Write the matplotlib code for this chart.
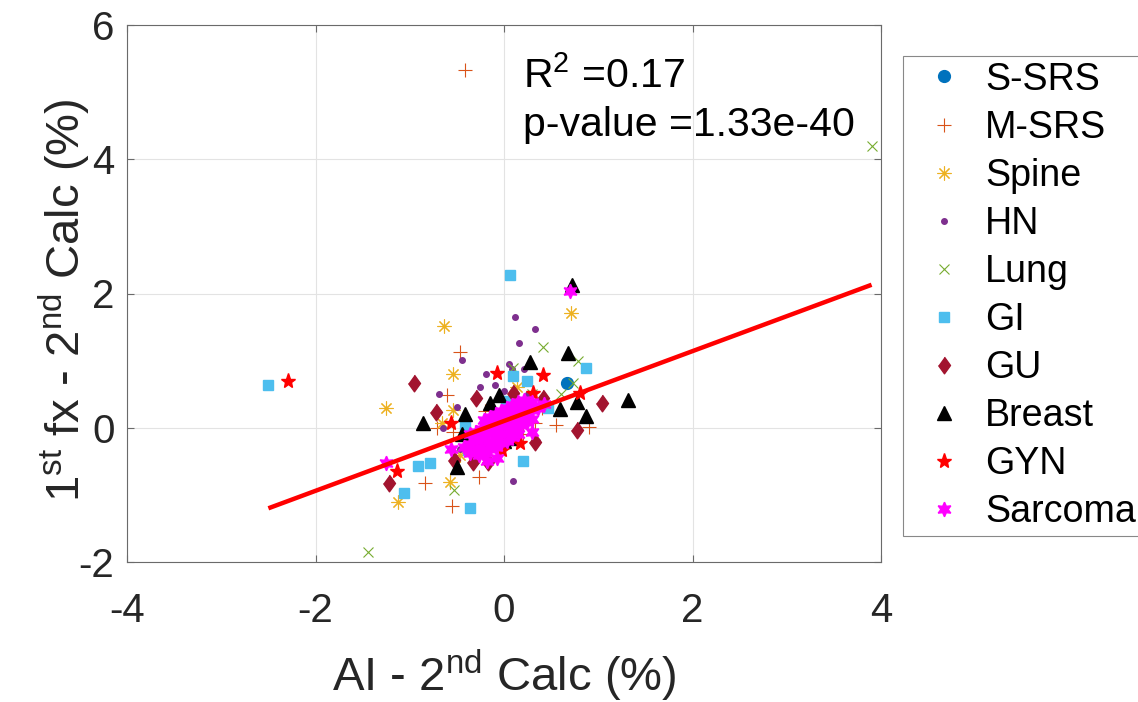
import matplotlib
matplotlib.use("Agg")
import matplotlib.pyplot as plt

plt.rcParams['font.family'] = ['Liberation Sans', 'DejaVu Sans']
plt.rcParams['mathtext.fontset'] = 'custom'
plt.rcParams['mathtext.rm'] = 'Liberation Sans'
plt.rcParams['mathtext.it'] = 'Liberation Sans:italic'
plt.rcParams['axes.unicode_minus'] = False

# ---------------- data ----------------
categories = ["S-SRS", "M-SRS", "Spine", "HN", "Lung", "GI", "GU", "Breast", "GYN", "Sarcoma"]

ssrs_x = [0.67, 0.05, -0.10, 0.10]
ssrs_y = [0.66, 0.20, 0.10, 0.30]

msrs_x = [-0.41, -0.47, -0.60, -0.71, -0.54, -0.27, -0.84, -0.55, 0.55, 0.90, 0.33, 0.20, 0.40, -0.20]
msrs_y = [5.33, 1.13, 0.49, 0.00, -0.07, -0.73, -0.83, -1.16, 0.04, 0.01, 0.07, -0.10, 0.30, 0.25]

spine_x = [0.71, -0.64, -0.54, -1.25, -0.54, -0.66, -0.47, -0.57, -1.12, 0.14, 0.30]
spine_y = [1.71, 1.52, 0.80, 0.30, 0.27, 0.07, -0.40, -0.81, -1.10, 0.61, 0.35]

hn_x = [0.33, 0.12, 0.16, -0.45, 0.21, 0.08, -0.19, -0.10, -0.69, -0.50, -0.65, -0.47, 0.10,
        0.00, -0.25, 0.25, -0.30, 0.35, 0.05]
hn_y = [1.47, 1.65, 1.27, 1.01, 0.88, 0.88, 0.80, 0.63, 0.51, 0.31, 0.00, -0.31, -0.79,
        0.55, 0.60, 0.50, -0.50, -0.20, 0.95]

lung_x = [3.90, -1.44, 0.41, 0.79, 0.73, 0.10, -0.53, 0.30, -0.20, 0.60]
lung_y = [4.20, -1.85, 1.20, 1.00, 0.67, 0.89, -0.92, 0.50, -0.30, 0.50]

gi_x = [-2.50, 0.06, 0.87, 0.10, 0.24, -0.91, -0.78, 0.20, -1.06, -0.36, -0.41, -0.38, 0.47, 0.02]
gi_y = [0.64, 2.27, 0.89, 0.77, 0.69, -0.57, -0.52, -0.49, -0.97, -1.19, 0.01, -0.33, 0.30, 0.40]

gu_x = [-0.95, -0.72, -0.30, 0.41, 1.04, 0.77, 0.33, -0.53, -0.17, -0.33, -1.22, 0.10, -0.36]
gu_y = [0.67, 0.24, 0.45, 0.45, 0.37, -0.03, -0.21, -0.48, -0.51, -0.51, -0.82, 0.52, -0.21]

breast_x = [0.72, 0.68, 0.28, -0.05, 0.59, 0.77, 0.87, 1.32, -0.86, -0.41, -0.50,
            -0.15, -0.25, 0.08, -0.30, 0.00, 0.15, -0.45]
breast_y = [2.12, 1.12, 0.98, 0.49, 0.28, 0.39, 0.18, 0.42, 0.07, 0.21, -0.58,
            0.37, -0.18, -0.15, -0.25, -0.20, 0.35, -0.10]

gyn_x = [-2.29, 0.41, -0.07, -0.56, -1.14, 0.81, 0.31, -0.08, -0.02, 0.17, -0.34]
gyn_y = [0.70, 0.79, 0.82, 0.07, -0.64, 0.52, 0.52, -0.23, -0.33, -0.23, -0.23]

sarcoma_x = [0.70, -1.25, -0.56, -0.29, -0.19, -0.07, 0.30, -0.18,
             -0.42, -0.36, -0.30, -0.24, -0.18, -0.12, -0.06, 0.00, 0.06, 0.12, 0.18, 0.24, 0.30, 0.36, 0.42,
             -0.36, -0.30, -0.24, -0.18, -0.12, -0.06, 0.00, 0.06, 0.12, 0.18, 0.24, 0.30,
             -0.36, -0.30, -0.24, -0.18, -0.12, -0.06, 0.00, 0.06, 0.12, 0.18, 0.24, 0.30,
             -0.21, -0.15, -0.09, -0.03, 0.03, 0.09, 0.15, 0.21,
             -0.27, -0.21, -0.15, -0.09, -0.03, 0.03, 0.09, 0.15]
sarcoma_y = [2.03, -0.52, -0.31, -0.36, -0.36, -0.45, -0.07, -0.49,
             -0.28, -0.24, -0.19, -0.15, -0.10, -0.06, -0.01, 0.03, 0.08, 0.12, 0.17, 0.21, 0.26, 0.30, 0.35,
             -0.10, -0.06, -0.02, 0.03, 0.07, 0.12, 0.16, 0.21, 0.25, 0.30, 0.34, 0.39,
             -0.37, -0.32, -0.28, -0.23, -0.19, -0.14, -0.10, -0.05, -0.01, 0.04, 0.08, 0.13,
             0.11, 0.16, 0.20, 0.25, 0.29, 0.34, 0.38, 0.42,
             -0.41, -0.37, -0.32, -0.28, -0.23, -0.19, -0.14, -0.10]

fit_x = [-2.50, 3.90]
fit_y = [-1.20, 2.13]

r2_text = "R$^2$ =0.17"
p_text = "p-value =1.33e-40"

x_ticks = [-4, -2, 0, 2, 4]
y_ticks = [-2, 0, 2, 4, 6]

# ---------------- styles ----------------
styles = {
    "S-SRS":   dict(marker='o', color='#0072BD', ms=8.5, mec='#0072BD'),
    "M-SRS":   dict(marker='+', color='#D95319', ms=10, mew=0.8),
    "Spine":   dict(marker=(8, 2, 0), color='#EDB120', ms=10, mew=0.8),
    "HN":      dict(marker='o', color='#7E2F8E', ms=4.0, mec='#7E2F8E'),
    "Lung":    dict(marker='x', color='#77AC30', ms=7, mew=0.8),
    "GI":      dict(marker='s', color='#4DBEEE', ms=7.5, mec='#4DBEEE'),
    "GU":      dict(marker=[(0, 1), (0.72, 0), (0, -1), (-0.72, 0)], color='#A2142F', ms=12, mec='#A2142F'),
    "Breast":  dict(marker='^', color='black', ms=10, mec='black'),
    "GYN":     dict(marker='*', color='red', ms=11, mec='red'),
    "Sarcoma": dict(marker=(6, 1, 0), color='magenta', ms=10.5, mec='magenta'),
}

data = {
    "S-SRS": (ssrs_x, ssrs_y), "M-SRS": (msrs_x, msrs_y), "Spine": (spine_x, spine_y),
    "HN": (hn_x, hn_y), "Lung": (lung_x, lung_y), "GI": (gi_x, gi_y), "GU": (gu_x, gu_y),
    "Breast": (breast_x, breast_y), "GYN": (gyn_x, gyn_y), "Sarcoma": (sarcoma_x, sarcoma_y),
}

FS_TICK = 29
FS_LAB = 34
FS_TXT = 29.5
FS_LEG = 27.1

fig = plt.figure(figsize=(11.38, 7.02), dpi=100)
ax = fig.add_axes([127/1138, 1 - 562/702, (881-127)/1138, (562-25)/702])

for c in categories:
    xs, ys = data[c]
    ax.plot(xs, ys, linestyle='none', label=c, **styles[c])

ax.plot(fit_x, fit_y, color='red', lw=3.2, solid_capstyle='butt')

ax.set_xlim(-4, 4)
ax.set_ylim(-2, 6)
ax.set_xticks(x_ticks)
ax.set_yticks(y_ticks)
ax.grid(True, color='#e3e3e3', lw=0.8)
ax.set_axisbelow(True)
for s in ax.spines.values():
    s.set_color('#6a6a6a')
    s.set_linewidth(0.8)
ax.tick_params(direction='in', length=5, width=0.8, color='#6a6a6a', labelsize=FS_TICK,
               labelcolor='#262626', top=True, right=True)
ax.tick_params(axis='x', pad=21.5)
ax.tick_params(axis='y', pad=9)

ax.set_xlabel(r"AI - 2$^{\mathrm{nd}}$ Calc (%)", fontsize=FS_LAB, color='#262626')
ax.set_ylabel(r"1$^{\mathrm{st}}$ fx - 2$^{\mathrm{nd}}$ Calc (%)", fontsize=FS_LAB, color='#262626')
ax.xaxis.set_label_coords(0.5, -0.158)
ax.yaxis.set_label_coords(-0.046, 0.488)

ax.text(0.20, 5.07, r2_text, fontsize=FS_TXT, va='baseline', ha='left', color='black')
ax.text(0.20, 4.34, p_text, fontsize=FS_TXT, va='baseline', ha='left', color='black')

leg = ax.legend(loc='upper left', bbox_to_anchor=(903/1138, 1 - 56/702), bbox_transform=fig.transFigure,
                fontsize=FS_LEG, frameon=True, fancybox=False, edgecolor='#6a6a6a', borderaxespad=0,
                borderpad=0.15, handlelength=1.87, handletextpad=0.16,
                labelspacing=0.32, numpoints=1)
leg.get_frame().set_linewidth(0.8)

fig.savefig("out.png", dpi=100)
